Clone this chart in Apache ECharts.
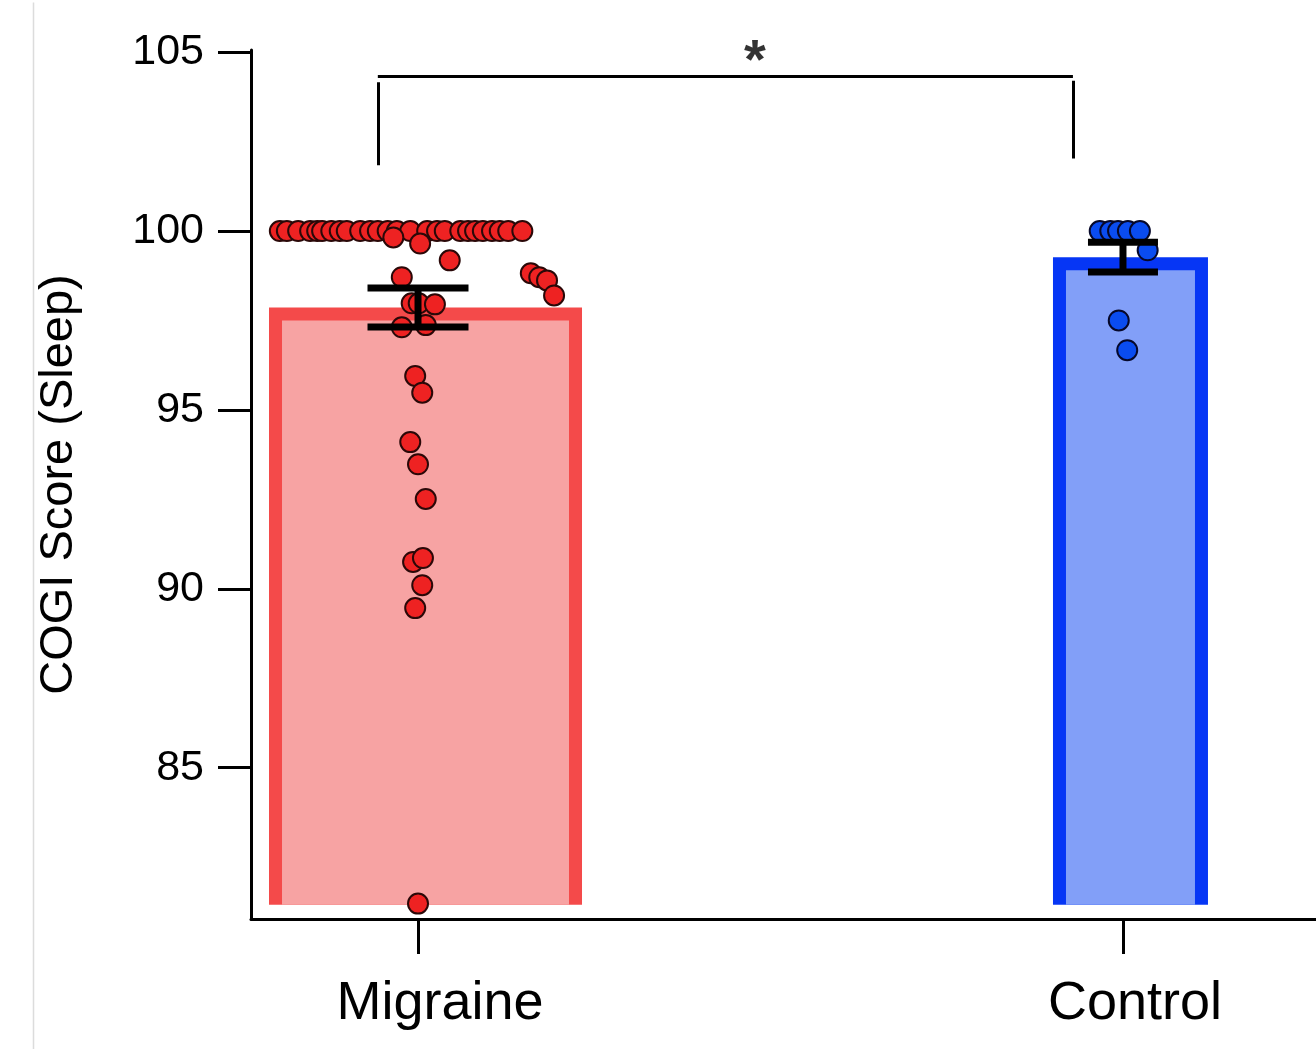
<!DOCTYPE html>
<html>
<head>
<meta charset="utf-8">
<script src="https://cdn.jsdelivr.net/npm/echarts@6/dist/echarts.min.js"></script>
<style>
html,body{margin:0;padding:0;background:#fff;}
#chart{width:1316px;height:1049px;}
</style>
</head>
<body>
<div id="chart"></div>
<script>
// ---- data ----
const categories = ['Migraine', 'Control'];
const catPos = [1, 2];
const means = [97.86, 99.27];
const sems = [0.545, 0.415];
const barBase = 81.17;
const yTicks = [85, 90, 95, 100, 105];
const yAxisTitle = 'COGI Score (Sleep)';

const migraineX = [
  0.804, 0.814, 0.830, 0.847, 0.857, 0.864, 0.877, 0.889, 0.899, 0.918, 0.932, 0.943, 0.957,
  0.970, 0.989, 1.013, 1.027, 1.038, 1.060, 1.071, 1.081, 1.092, 1.105, 1.116, 1.128, 1.148,
  0.965, 1.003, 1.045, 0.977, 1.160, 1.172, 1.183, 1.193, 0.991, 1.001, 1.024, 0.977, 1.011,
  0.996, 1.006, 0.989, 1.000, 1.011, 0.993, 1.007, 1.006, 0.996, 1.000
];
const migraineY = [
  100, 100, 100, 100, 100, 100, 100, 100, 100, 100, 100, 100, 100,
  100, 100, 100, 100, 100, 100, 100, 100, 100, 100, 100, 100, 100,
  99.82, 99.65, 99.18, 98.71, 98.82, 98.71, 98.62, 98.20, 97.98, 97.98, 97.95, 97.31, 97.37,
  95.95, 95.48, 94.10, 93.48, 92.51, 90.75, 90.86, 90.10, 89.46, 81.20
];
const controlX = [1.967, 1.982, 1.993, 2.007, 2.024, 2.035, 1.994, 2.006];
const controlY = [100, 100, 100, 100, 100, 99.46, 97.50, 96.67];

const bracketX = [0.943, 1.929];
const bracketTop = 104.32;
const bracketLegTop = [104.16, 104.2];
const bracketLegBottom = [101.84, 102.03];
const sigLabel = '*';
const sigPos = [1.478, 104.98];

// ---- style ----
const FONT = '"Liberation Sans", Arial, sans-serif';
const borderColors = ['#F44A4A', '#0636F5'];
const fillColors = ['#F7A3A3', '#829FF8'];
const dotColors = ['#EE2222', '#0A4CF0'];
const barWidths = [313, 155];
const capWidths = [101, 70];

const chart = echarts.init(document.getElementById('chart'), null, {renderer: 'canvas'});

const option = {
  animation: false,
  backgroundColor: '#ffffff',
  grid: {left: 251, right: 0, top: 50, bottom: 130, containLabel: false},
  xAxis: {
    type: 'value',
    min: 0.7631,
    max: 2.2738,
    axisLine: {show: true, onZero: false, lineStyle: {color: '#000', width: 3}},
    axisTick: {show: true, customValues: catPos, length: 35, lineStyle: {color: '#000', width: 3}},
    axisLabel: {
      show: true,
      customValues: catPos,
      margin: 58,
      color: '#000',
      fontFamily: FONT,
      fontSize: 54,
      formatter: function (v) {
        const i = catPos.indexOf(Math.round(v));
        return i === 0 ? '{m|' + categories[0] + '}' : '{c|' + categories[1] + '}';
      },
      rich: {
        m: {fontFamily: FONT, fontSize: 54, color: '#000', padding: [0, 0, 0, 44]},
        c: {fontFamily: FONT, fontSize: 54, color: '#000', padding: [0, 0, 0, 24]}
      }
    },
    splitLine: {show: false}
  },
  yAxis: {
    type: 'value',
    min: 80.77,
    max: 105.06,
    name: yAxisTitle,
    nameLocation: 'middle',
    nameGap: 168,
    nameTextStyle: {fontFamily: FONT, fontSize: 47, color: '#000'},
    axisLine: {show: true, onZero: false, lineStyle: {color: '#000', width: 3}},
    axisTick: {show: true, customValues: yTicks, length: 33, lineStyle: {color: '#000', width: 3}},
    axisLabel: {
      show: true,
      customValues: yTicks,
      margin: 47,
      color: '#000',
      fontFamily: FONT,
      fontSize: 43,
      formatter: v => String(Math.round(v))
    },
    splitLine: {show: false}
  },
  graphic: [{
    type: 'line', left: 31, top: 0, silent: true,
    shape: {x1: 0, y1: 0, x2: 0, y2: 1049},
    style: {stroke: '#dcdcdc', lineWidth: 1.5}
  }],
  series: [
    {
      type: 'custom',
      name: 'bars',
      z: 1,
      data: categories.map((c, i) => [catPos[i], means[i]]),
      renderItem: function (params, api) {
        const i = params.dataIndex;
        const base = api.coord([api.value(0), barBase]);
        const top = api.coord([api.value(0), api.value(1)]);
        const w = barWidths[i];
        const cx = base[0] + 7.5;
        const b = 13;
        const h = base[1] - top[1];
        return {
          type: 'group',
          children: [
            {type: 'rect', shape: {x: cx - w / 2, y: top[1], width: w, height: h}, style: {fill: borderColors[i]}},
            {type: 'rect', shape: {x: cx - w / 2 + b, y: top[1] + b, width: w - 2 * b, height: h - b}, style: {fill: fillColors[i]}}
          ]
        };
      }
    },
    {
      type: 'scatter',
      name: categories[0],
      z: 2,
      symbolSize: 20,
      itemStyle: {color: dotColors[0], borderColor: '#2a0808', borderWidth: 2, opacity: 1},
      data: migraineX.map((x, i) => [x, migraineY[i]])
    },
    {
      type: 'scatter',
      name: categories[1],
      z: 2,
      symbolSize: 20,
      itemStyle: {color: dotColors[1], borderColor: '#06082a', borderWidth: 2, opacity: 1},
      data: controlX.map((x, i) => [x, controlY[i]])
    },
    {
      type: 'custom',
      name: 'errorbars',
      z: 3,
      data: categories.map((c, i) => [catPos[i], means[i] - sems[i], means[i] + sems[i]]),
      renderItem: function (params, api) {
        const i = params.dataIndex;
        const lo = api.coord([api.value(0), api.value(1)]);
        const hi = api.coord([api.value(0), api.value(2)]);
        const cw = capWidths[i] / 2;
        const st = {stroke: '#000', lineWidth: 7};
        return {
          type: 'group',
          children: [
            {type: 'line', shape: {x1: lo[0], y1: lo[1], x2: hi[0], y2: hi[1]}, style: st},
            {type: 'line', shape: {x1: lo[0] - cw, y1: lo[1], x2: lo[0] + cw, y2: lo[1]}, style: st},
            {type: 'line', shape: {x1: hi[0] - cw, y1: hi[1], x2: hi[0] + cw, y2: hi[1]}, style: st}
          ]
        };
      }
    },
    {
      type: 'lines',
      coordinateSystem: 'cartesian2d',
      z: 3,
      silent: true,
      lineStyle: {color: '#000', width: 3, opacity: 1},
      data: [
        {coords: [[bracketX[0], bracketLegBottom[0]], [bracketX[0], bracketLegTop[0]]]},
        {coords: [[bracketX[0], bracketTop], [bracketX[1], bracketTop]]},
        {coords: [[bracketX[1], bracketLegTop[1]], [bracketX[1], bracketLegBottom[1]]]}
      ]
    },
    {
      type: 'scatter',
      name: 'sig',
      z: 4,
      symbolSize: 1,
      itemStyle: {color: 'rgba(0,0,0,0)'},
      label: {
        show: true,
        position: 'inside',
        formatter: sigLabel,
        fontFamily: FONT,
        fontWeight: 'bold',
        fontSize: 56,
        color: '#000',
        offset: [0, 10]
      },
      data: [sigPos]
    }
  ]
};

chart.setOption(option);
</script>
</body>
</html>
